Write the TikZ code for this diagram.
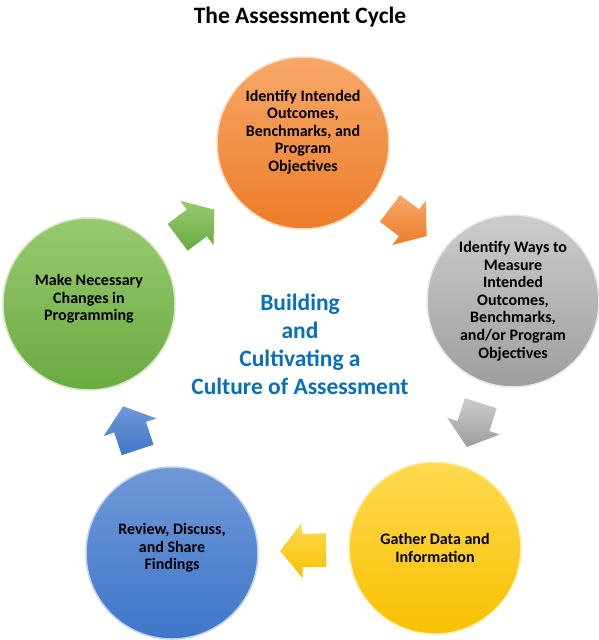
\documentclass[tikz,border=0pt]{standalone}
\usepackage{fontspec}
\setmainfont{Carlito}
\usepackage{tikz}
\usetikzlibrary{calc,shapes.arrows}

\definecolor{orangetop}{RGB}{248,168,104}
\definecolor{orangebot}{RGB}{236,124,40}
\definecolor{graytop}{RGB}{204,204,204}
\definecolor{graybot}{RGB}{158,158,158}
\definecolor{yellowtop}{RGB}{255,218,80}
\definecolor{yellowbot}{RGB}{248,192,0}
\definecolor{bluetop}{RGB}{112,152,216}
\definecolor{bluebot}{RGB}{62,118,200}
\definecolor{greentop}{RGB}{152,202,112}
\definecolor{greenbot}{RGB}{106,170,64}
\definecolor{cultureblue}{RGB}{8,112,186}

\begin{document}
\begin{tikzpicture}[x=1pt,y=-1pt,
    stage/.style 2 args={circle,minimum size=172pt,inner sep=0pt,
      top color=#1,bottom color=#2,draw=white!55!#1,line width=1.5pt},
    stagetext/.style={font=\bfseries\fontsize{16}{17.6}\selectfont,align=center,text=black},
    flow/.style 2 args={single arrow,minimum height=46pt,minimum width=55pt,
      inner xsep=0pt,inner ysep=16.5pt,
      single arrow head extend=11pt,single arrow tip angle=103,
      top color=#1,bottom color=#2,draw=none,sloped,allow upside down,pos=0.43}]
        \useasboundingbox (0,0) rectangle (599,640);
        \node[font=\bfseries\fontsize{23.5}{26}\selectfont] (title) at (300,17) {The Assessment Cycle};
        % circles of the cycle
        \node[stage={orangetop}{orangebot}] (plan) at (303,143) {};
        \node[stage={graytop}{graybot}] (measure) at (513,301) {};
        \node[stage={yellowtop}{yellowbot}] (gather) at (435,548) {};
        \node[stage={bluetop}{bluebot}] (review) at (172,553) {};
        \node[stage={greentop}{greenbot}] (change) at (89,304) {};
        % texts in the circles
        \node[stagetext] (plantext) at ([yshift=11pt]plan.center)
          {Identify Intended\\Outcomes,\\Benchmarks, and\\Program\\Objectives};
        \node[stagetext] (measuretext) at (measure.center)
          {Identify Ways to\\Measure\\Intended\\Outcomes,\\Benchmarks,\\and/or Program\\Objectives};
        \node[stagetext] (gathertext) at (gather.center) {Gather Data and\\Information};
        \node[stagetext] (reviewtext) at ([yshift=5pt]review.center) {Review, Discuss,\\and Share\\Findings};
        \node[stagetext] (changetext) at ([yshift=5pt]change.center) {Make Necessary\\Changes in\\Programming};
        % arrows between the circles
        \path (plan) -- node[flow={orangetop}{orangebot}] (a1) {} (measure);
        \path (measure) -- node[flow={graytop}{graybot}] (a2) {} (gather);
        \path (gather) -- node[flow={yellowtop}{yellowbot}] (a3) {} (review);
        \path (review) -- node[flow={bluetop}{bluebot}] (a4) {} (change);
        \path (change) -- node[flow={greentop}{greenbot}] (a5) {} (plan);
        % text in the middle
        \node[font=\bfseries\fontsize{23.5}{28}\selectfont,text=cultureblue,align=center] (culture) at (300,344)
          {Building\\and\\Cultivating a\\Culture of Assessment};
      \end{tikzpicture}
\end{document}
